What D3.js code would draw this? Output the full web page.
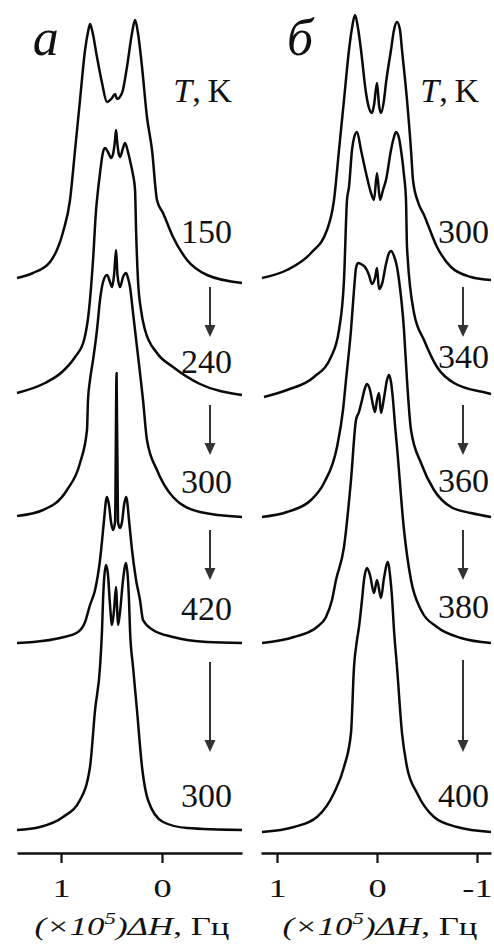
<!DOCTYPE html>
<html><head><meta charset="utf-8">
<script src="https://cdn.jsdelivr.net/npm/d3@7"></script>
<style>
html,body{margin:0;padding:0;background:#fff;}
svg{display:block;}
text{font-family:"Liberation Serif","Times New Roman",serif;fill:#111;}
</style></head><body>
<svg id="chart" width="494" height="946"></svg>
<script>
// ---------------- DATA ----------------
// panel "а": temperatures (K), spectra ΔH (×10^5 Hz) and intensity (a.u., relative to each trace baseline)
const tempsA = [150, 240, 300, 420, 300];
const offsetsA = [57.3, 45.9, 33.7, 21.0, 2.3];
const a1_dH = [1.436,1.277,1.109,0.980,0.911,0.861,0.812,0.762,0.733,0.713,0.693,0.644,0.594,0.545,0.495,0.465,0.446,0.396,0.347,0.297,0.267,0.238,0.198,0.149,0.099,0.050,-0.010,-0.109,-0.248,-0.446,-0.792];
const a1_I  = [0.2,0.7,1.8,4.8,8.0,13.0,18.0,23.0,24.8,25.6,25.0,22.3,19.7,17.8,18.2,18.6,18.1,18.7,21.3,24.7,26.0,24.7,21.3,16.3,13.0,8.0,6.7,4.3,2.0,0.5,-0.3];
const a2_dH = [1.436,1.158,0.990,0.861,0.772,0.723,0.683,0.653,0.644,0.614,0.584,0.564,0.535,0.505,0.485,0.465,0.455,0.446,0.426,0.416,0.386,0.366,0.337,0.307,0.287,0.267,0.257,0.238,0.208,0.168,0.050,-0.109,-0.376,-0.792];
const a2_I  = [0.1,1.1,2.2,3.7,5.4,8.4,13.4,18.4,19.4,22.1,24.2,24.6,24.2,23.6,24.0,25.4,26.4,25.4,23.9,23.7,24.6,25.1,24.2,22.9,21.9,20.4,16.4,11.4,8.4,6.4,4.1,2.7,1.0,-0.1];
const a3_dH = [1.436,1.178,0.941,0.812,0.743,0.733,0.713,0.683,0.644,0.614,0.584,0.545,0.515,0.495,0.475,0.455,0.441,0.416,0.386,0.356,0.337,0.317,0.287,0.248,0.218,0.188,0.149,0.050,-0.109,-0.376,-0.792];
const a3_I  = [0,0.6,2.6,5.3,8.6,11.6,13.6,15.6,18.6,21.6,23.4,24.1,23.4,22.9,24.1,26.6,24.1,22.9,23.9,24.3,23.8,22.9,20.3,16.9,14.3,11.6,7.6,4.6,1.9,0.4,-0.1];
const a4_dH = [1.436,1.277,1.010,0.832,0.762,0.713,0.663,0.614,0.574,0.554,0.545,0.525,0.505,0.485,0.465,0.450,0.436,0.416,0.396,0.376,0.356,0.347,0.327,0.297,0.257,0.218,0.188,0.089,-0.109,-0.446,-0.792];
const a4_I  = [0,0.1,0.5,1.1,2.1,3.8,5.3,8.3,12.3,14.3,14.6,13.8,12.1,11.3,12.1,27.0,12.1,11.5,12.1,13.8,14.6,14.3,12.3,9.3,6.3,4.3,2.3,1.3,0.6,0.1,0];
const a5_dH = [1.436,1.208,0.980,0.812,0.713,0.663,0.614,0.594,0.584,0.574,0.554,0.535,0.515,0.495,0.475,0.455,0.446,0.436,0.416,0.386,0.356,0.337,0.327,0.317,0.287,0.248,0.198,0.139,-0.010,-0.248,-0.792];
const a5_I  = [0,0.3,1.3,3.0,6.3,12.0,16.3,20.0,23.0,25.0,26.5,25.5,22.5,20.5,22.0,24.3,22.5,20.5,21.8,25.0,26.7,25.0,23.0,20.0,16.3,12.0,6.3,3.0,0.8,0.2,0];

// panel "б"
const tempsB = [300, 340, 360, 380, 400];
const offsetsB = [57.4, 45.7, 33.7, 21.0, 2.1];
const b1_dH = [1.15,0.90,0.66,0.50,0.43,0.38,0.33,0.28,0.25,0.22,0.19,0.16,0.11,0.08,0.05,0.03,0.00,-0.02,-0.04,-0.07,-0.09,-0.14,-0.17,-0.20,-0.23,-0.25,-0.30,-0.34,-0.36,-0.41,-0.47,-0.60,-0.74,-0.94,-1.14];
const b1_I  = [0.1,0.9,2.6,4.9,7.9,12.9,17.9,22.9,25.1,26.4,25.1,22.9,18.6,17.1,16.6,17.4,19.6,17.4,16.6,17.9,19.6,22.9,24.9,25.7,24.9,22.9,17.9,12.9,9.9,7.7,6.4,3.2,1.2,0.2,-0.1];
const b2_dH = [1.13,0.90,0.63,0.46,0.38,0.33,0.30,0.28,0.25,0.23,0.20,0.16,0.11,0.06,0.03,0.00,-0.03,-0.06,-0.09,-0.14,-0.17,-0.19,-0.22,-0.24,-0.27,-0.29,-0.30,-0.37,-0.47,-0.60,-0.77,-1.10,-1.14];
const b2_I  = [-0.1,0.6,1.9,3.9,6.6,11.6,19.6,20.9,24.6,25.8,26.4,24.6,22.3,20.3,19.6,22.3,19.6,20.6,21.6,24.6,25.9,26.4,25.8,24.6,22.1,19.6,14.9,8.3,5.6,2.9,1.3,0.3,0.2];
const b3_dH = [1.15,0.90,0.66,0.53,0.40,0.34,0.31,0.26,0.23,0.21,0.19,0.16,0.12,0.08,0.05,0.02,0.00,-0.02,-0.05,-0.09,-0.12,-0.14,-0.17,-0.20,-0.22,-0.27,-0.30,-0.34,-0.44,-0.57,-0.74,-0.94,-1.14];
const b3_I  = [-0.1,0.4,1.6,3.3,6.9,10.6,13.6,18.6,22.6,24.8,25.3,25.2,24.9,24.1,23.2,23.8,24.8,22.7,23.2,25.2,26.3,26.5,26.0,24.9,23.6,18.6,13.6,8.6,5.3,2.6,0.9,0.3,-0.1];
const b4_dH = [1.15,0.83,0.60,0.51,0.45,0.41,0.33,0.26,0.21,0.18,0.15,0.12,0.10,0.07,0.04,0.02,0.00,-0.02,-0.04,-0.07,-0.10,-0.12,-0.14,-0.16,-0.18,-0.20,-0.27,-0.34,-0.44,-0.60,-0.84,-1.14];
const b4_I  = [0,0.6,1.6,2.6,4.3,6.3,9.6,16.3,22.3,23.1,24.3,25.5,25.9,25.3,23.8,23.1,24.3,25.0,23.0,24.5,26.3,26.8,26.1,24.3,21.8,19.6,11.3,6.3,3.3,1.6,0.5,0];
const b5_dH = [1.15,0.83,0.60,0.43,0.33,0.26,0.23,0.20,0.18,0.15,0.13,0.10,0.07,0.03,0.00,-0.04,-0.07,-0.11,-0.13,-0.15,-0.17,-0.20,-0.25,-0.30,-0.40,-0.57,-0.80,-1.14];
const b5_I  = [0,0.5,1.5,3.9,6.5,9.9,16.5,19.2,20.5,23.2,25.2,26.4,25.7,23.9,25.2,23.4,25.4,27.0,25.7,23.5,20.2,16.5,9.9,6.5,3.9,1.5,0.5,0];

const ticksA = [1, 0];
const ticksB = [1, 0, -1];
const axisTitle = ["(×10", "5", ")ΔH", ", Гц"];
const panelLetters = ["а", "б"];

// ---------------- LAYOUT ----------------
const svg = d3.select("#chart");
const y = d3.scaleLinear().domain([0, 85.3]).range([853, 0]);
const xA = d3.scaleLinear().domain([1.436, -0.792]).range([17, 242]);
const xB = d3.scaleLinear().domain([1.16, -1.14]).range([261, 491]);

const seriesA = [[a1_dH,a1_I],[a2_dH,a2_I],[a3_dH,a3_I],[a4_dH,a4_I],[a5_dH,a5_I]];
const seriesB = [[b1_dH,b1_I],[b2_dH,b2_I],[b3_dH,b3_I],[b4_dH,b4_I],[b5_dH,b5_I]];

// annotation placement (data units)
const panels = [
  {x: xA, series: seriesA, offsets: offsetsA, temps: tempsA, ticks: ticksA,
   labelX: -0.693, labelY: [61.0, 48.0, 36.0, 23.3, 4.6], headX: -0.693, headY: 75.1,
   arrowX: -0.475, arrows: [[56.6,51.6],[44.8,39.8],[32.3,27.3],[19.1,10.1]],
   letterX: 1.28, letter: panelLetters[0], titleCx: 132},
  {x: xB, series: seriesB, offsets: offsetsB, temps: tempsB, ticks: ticksB,
   labelX: -1.12, labelY: [61.0, 48.5, 36.1, 23.5, 4.6], headX: -1.02, headY: 75.1,
   arrowX: -0.86, arrows: [[56.6,51.6],[44.8,39.8],[32.3,27.3],[19.3,10.1]],
   letterX: 0.90, letter: panelLetters[1], titleCx: 380}
];

panels.forEach(p => {
  const line = d3.line().x(d => p.x(d[0])).y(d => y(d[1])).curve(d3.curveMonotoneX);
  p.series.forEach((s, i) => {
    const pts = d3.zip(s[0], s[1].map(v => v + p.offsets[i]));
    svg.append("path").attr("d", line(pts)).attr("fill", "none")
      .attr("stroke", "#0a0a0a").attr("stroke-width", 2.5).attr("stroke-linejoin", "round");
  });

  // temperature labels
  p.temps.forEach((t, i) => {
    svg.append("text").attr("x", p.x(p.labelX)).attr("y", y(p.labelY[i]))
      .attr("text-anchor", "end").attr("font-size", 34).text(t);
  });
  // header T, K
  const hd = svg.append("text").attr("x", p.x(p.headX)).attr("y", y(p.headY))
    .attr("text-anchor", "end").attr("font-size", 34);
  hd.append("tspan").attr("font-style", "italic").text("T");
  hd.append("tspan").text(",\u2009K");

  // arrows
  p.arrows.forEach(a => {
    const ax = p.x(p.arrowX), y1 = y(a[0]), y2 = y(a[1]);
    svg.append("line").attr("x1", ax).attr("x2", ax).attr("y1", y1).attr("y2", y2 - 9)
      .attr("stroke", "#333").attr("stroke-width", 2);
    svg.append("path").attr("d", `M${ax-5.5},${y2-12}L${ax+5.5},${y2-12}L${ax},${y2}Z`).attr("fill", "#333");
  });

  // panel letter
  svg.append("text").attr("x", p.x(p.letterX)).attr("y", 55).attr("font-size", 52)
    .attr("font-style", "italic").text(p.letter);

  // axis
  const g = svg.append("g").attr("transform", `translate(0,${y(0)})`)
    .call(d3.axisBottom(p.x).tickValues(p.ticks).tickSize(10).tickSizeOuter(0).tickPadding(16).tickFormat(d => String(d)));
  g.attr("font-family", null).attr("font-size", 26);
  g.select(".domain").attr("stroke", "#111").attr("stroke-width", 2.4);
  g.selectAll(".tick line").attr("stroke", "#111").attr("stroke-width", 2.2);
  g.selectAll(".tick text").attr("fill", "#111").attr("transform", "scale(1.4,1)");

  // axis title
  const tg = svg.append("g");
  const t = tg.append("text").attr("x", 0).attr("y", 0).attr("text-anchor", "middle").attr("font-size", 26);
  t.append("tspan").attr("font-style", "italic").text(axisTitle[0]);
  t.append("tspan").attr("font-style", "italic").attr("font-size", 17).attr("dy", -11).text(axisTitle[1]);
  t.append("tspan").attr("font-style", "italic").attr("dy", 11).text(axisTitle[2]);
  t.append("tspan").text(axisTitle[3]);
  const w = t.node().getBBox().width;
  tg.attr("transform", `translate(${p.titleCx},935) scale(${195 / w},1)`);
});
</script></body></html>
